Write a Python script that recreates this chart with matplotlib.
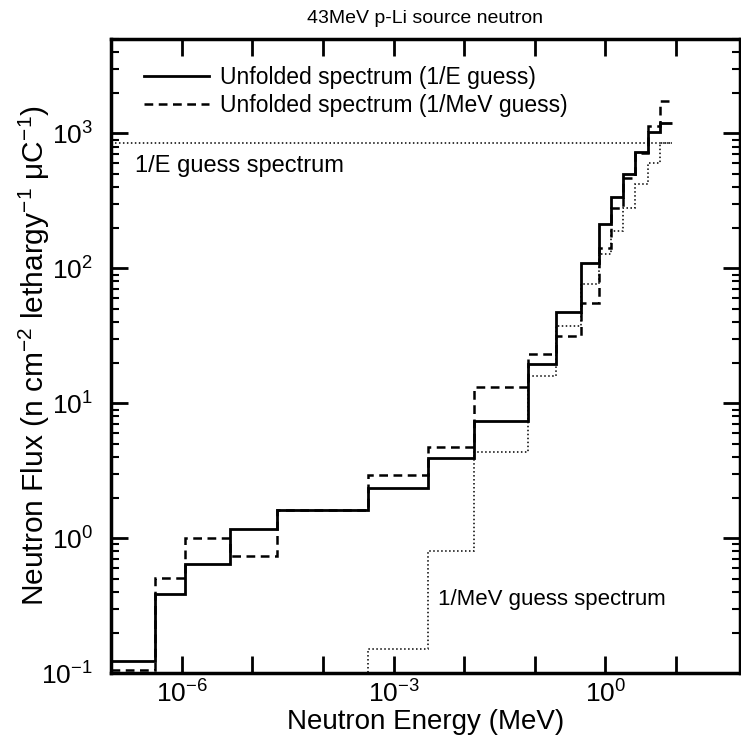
import numpy as np
import matplotlib.pyplot as plt
from matplotlib.ticker import FixedLocator, FixedFormatter, LogLocator, NullFormatter

plt.rcParams['font.family'] = ['Liberation Sans', 'DejaVu Sans']
plt.rcParams['mathtext.default'] = 'regular'

# energy bin edges (MeV)
edges = [1e-7, 4.14e-7, 1.1e-6, 4.8e-6, 2.2e-5, 4.3e-4, 3.1e-3, 1.4e-2, 8.0e-2,
         0.2, 0.45, 0.82, 1.2, 1.75, 2.65, 4.0, 6.0, 8.8]

# unfolded spectrum, 1/E guess
unf_1e = [0.124, 0.386, 0.647, 1.17, 1.62, 2.35, 3.93, 7.38, 19.5,
          47.5, 109, 213, 337, 502, 730, 1031, 1194]

# unfolded spectrum, 1/MeV guess
unf_1mev = [0.105, 0.506, 1.0, 0.734, 1.62, 2.95, 4.75, 13.2, 23.2,
            31.5, 55.5, 141, 280, 470, 720, 1140, 1733]

# 1/MeV guess spectrum (starts from the 5th edge)
guess_mev_edges = edges[4:]
guess_mev = [0.03, 0.15, 0.81, 4.33, 16.0, 37.3, 76.4, 127, 189, 281, 419, 608, 850]

# 1/E guess spectrum (flat per lethargy)
guess_1e = 850

xticks = [1e-7, 1e-6, 1e-5, 1e-4, 1e-3, 1e-2, 1e-1, 1e0, 1e1]
xticklabels = ['', '$10^{-6}$', '', '', '$10^{-3}$', '', '', '$10^{0}$', '']
yticks = [1e-1, 1e0, 1e1, 1e2, 1e3]
yticklabels = ['$10^{-1}$', '$10^{0}$', '$10^{1}$', '$10^{2}$', '$10^{3}$']

fig = plt.figure(figsize=(7.41, 7.39), dpi=100)
ax = fig.add_axes([0.150, 0.089, 0.848, 0.858])

ax.stairs(unf_1e, edges, baseline=None, color='black', lw=2.0,
          label='Unfolded spectrum (1/E guess)')
ax.stairs(unf_1mev, edges, baseline=None, color='black', lw=1.8,
          linestyle=(0, (3.5, 2.2)), label='Unfolded spectrum (1/MeV guess)')
ax.stairs(guess_mev, guess_mev_edges, baseline=None, color='black', lw=1.1,
          linestyle=(0, (1, 1.6)))
ax.stairs([guess_1e], [edges[0], edges[-1]], baseline=None, color='black',
          lw=1.1, linestyle=(0, (1, 1.6)))

ax.set_xscale('log')
ax.set_yscale('log')
ax.set_xlim(1e-7, 10 ** 1.9)
ax.set_ylim(0.1, 5000)

ax.xaxis.set_major_locator(FixedLocator(xticks))
ax.xaxis.set_major_formatter(FixedFormatter(xticklabels))
ax.xaxis.set_minor_locator(FixedLocator([]))
ax.yaxis.set_major_locator(FixedLocator(yticks))
ax.yaxis.set_major_formatter(FixedFormatter(yticklabels))
ax.yaxis.set_minor_locator(LogLocator(base=10, subs=np.arange(2, 10)))
ax.yaxis.set_minor_formatter(NullFormatter())

ax.tick_params(which='major', direction='in', length=12, width=2,
               top=True, right=True, labelsize=19, pad=5)
ax.tick_params(axis='y', which='major', pad=13)
ax.tick_params(which='minor', direction='in', length=6, width=1.5,
               top=True, right=True)
for s in ax.spines.values():
    s.set_linewidth(2.5)

ax.set_xlabel('Neutron Energy (MeV)', fontsize=20, labelpad=1)
ax.set_ylabel('Neutron Flux (n cm$^{-2}$ lethargy$^{-1}$ $\\mu$C$^{-1}$)',
              fontsize=21.5, labelpad=-8)
ax.set_title('43MeV p-Li source neutron', fontsize=14, pad=12)

ax.text(2.2e-7, 570, '1/E guess spectrum', fontsize=17, va='center')
ax.text(4.2e-3, 0.35, '1/MeV guess spectrum', fontsize=16, va='center')

ax.legend(loc='upper left', bbox_to_anchor=(0.02, 0.99), frameon=False,
          fontsize=16.5, handlelength=2.8, handletextpad=0.5, labelspacing=0.2)

fig.savefig('out.png', dpi=100)
